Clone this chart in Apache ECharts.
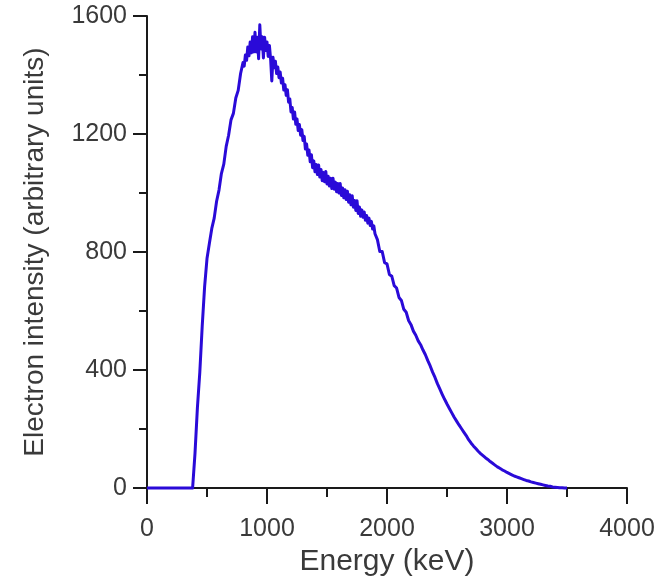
<!DOCTYPE html>
<html>
<head>
<meta charset="utf-8">
<script src="https://cdn.jsdelivr.net/npm/echarts@6/dist/echarts.min.js"></script>
<style>
html,body{margin:0;padding:0;background:#fff;}
#chart{width:658px;height:582px;}
</style>
</head>
<body>
<div id="chart"></div>
<script>
var xTicks = [0, 1000, 2000, 3000, 4000];
var yTicks = [0, 400, 800, 1200, 1600];
var xTitle = 'Energy (keV)';
var yTitle = 'Electron intensity (arbitrary units)';

var energy = [
  0, 360, 380, 400, 420, 440, 460, 480, 500, 520, 540, 560, 580, 600, 620, 640, 660, 680, 700, 720, 740, 760,
  780, 790, 800, 810, 820, 830, 840, 850, 860, 870, 880, 890, 900, 910, 920, 930, 940, 950, 960, 970, 980, 990,
  1000, 1010, 1020, 1030, 1040, 1050, 1060, 1070, 1080, 1090, 1100, 1110, 1120, 1130, 1140, 1150, 1160, 1170, 1180, 1190,
  1200, 1210, 1220, 1230, 1240, 1250, 1260, 1270, 1280, 1290, 1300, 1310, 1320, 1330, 1340, 1350, 1360, 1370, 1380, 1390,
  1400, 1410, 1420, 1430, 1440, 1450, 1460, 1470, 1480, 1490, 1500, 1510, 1520, 1530, 1540, 1550, 1560, 1570, 1580, 1590,
  1600, 1610, 1620, 1630, 1640, 1650, 1660, 1670, 1680, 1690, 1700, 1710, 1720, 1730, 1740, 1750, 1760, 1770, 1780, 1790,
  1800, 1810, 1820, 1830, 1840, 1850, 1860, 1870, 1880, 1890, 1900,
  1920, 1940, 1960, 1980, 2000, 2020, 2040, 2060, 2080, 2100, 2120, 2140, 2160, 2180, 2200, 2220, 2240, 2260, 2280, 2300, 2320,
  2340, 2360, 2380, 2400, 2420, 2440, 2460, 2480, 2500, 2520, 2540, 2560, 2580, 2600, 2620, 2640, 2660, 2680, 2700, 2720,
  2740, 2760, 2780, 2800, 2820, 2840, 2860, 2880, 2900, 2920, 2940, 2960, 2980, 3000, 3020, 3040, 3060, 3080, 3100, 3120,
  3140, 3160, 3180, 3200, 3220, 3240, 3260, 3280, 3300, 3320, 3340, 3360, 3380, 3400, 3420, 3440, 3460, 3480, 3500, 4000
];

var intensity = [
  0, 0, 0, 118, 272, 392, 548, 682, 778, 830, 880, 915, 972, 1010, 1066, 1098, 1158, 1196, 1248, 1270, 1322, 1348,
  1405, 1400, 1442, 1430, 1468, 1450, 1495, 1465, 1512, 1475, 1530, 1478, 1545, 1478, 1528, 1455, 1570, 1488, 1530, 1458, 1528, 1483,
  1512, 1463, 1500, 1455, 1380, 1460, 1425, 1447, 1405, 1427, 1391, 1410, 1373, 1389, 1349, 1367, 1331, 1350, 1308, 1319,
  1275, 1290, 1251, 1275, 1233, 1251, 1212, 1232, 1196, 1215, 1178, 1192, 1149, 1166, 1128, 1146, 1106, 1130, 1086, 1109,
  1072, 1097, 1063, 1095, 1054, 1080, 1042, 1070, 1038, 1073, 1031, 1057, 1024, 1050, 1015, 1050, 1013, 1037, 1004, 1032,
  1000, 1032, 992, 1017, 984, 1011, 978, 1006, 969, 994, 960, 991, 952, 975, 941, 974, 931, 953, 921, 943,
  918, 936, 908, 924, 898, 915, 890, 904, 878, 889, 862,
  842, 802, 802, 764, 760, 724, 718, 686, 678, 646, 636, 606, 596, 568, 554, 532, 518, 499, 486, 468,
  452, 432, 414, 393, 375, 354, 336, 318, 301, 285, 270, 255, 240, 227, 214, 202, 190, 178, 164, 153,
  143, 134, 125, 117, 110, 103, 97, 90, 84, 78, 72, 67, 62, 58, 53, 49, 45, 41, 38, 35,
  32, 29, 26, 24, 21, 19, 17, 15, 13, 11, 9, 7, 6, 4, 3, 2, 1, 1, 0, 0
];

var seriesData = energy.map(function (e, i) { return [e, intensity[i]]; });

var textColor = '#3a3a3a';
var axisColor = '#1a1a1a';
var font = 'Liberation Sans, Arial, sans-serif';
function plain(v) { return String(v); }

var chart = echarts.init(document.getElementById('chart'), null, {renderer: 'canvas'});
chart.setOption({
  backgroundColor: '#ffffff',
  animation: false,
  grid: {left: 147, right: 31, top: 16, bottom: 88, containLabel: false},
  xAxis: {
    type: 'value',
    min: xTicks[0],
    max: xTicks[xTicks.length - 1],
    interval: xTicks[1] - xTicks[0],
    name: xTitle,
    nameLocation: 'middle',
    nameGap: 54,
    nameTextStyle: {color: textColor, fontSize: 30, fontFamily: font},
    axisLine: {show: true, onZero: false, lineStyle: {color: axisColor, width: 2}},
    axisTick: {show: true, length: 16, lineStyle: {color: axisColor, width: 2}},
    minorTick: {show: true, splitNumber: 2, length: 9, lineStyle: {color: axisColor, width: 2}},
    axisLabel: {color: textColor, fontSize: 25, fontFamily: font, margin: 29, formatter: plain},
    splitLine: {show: false},
    minorSplitLine: {show: false}
  },
  yAxis: {
    type: 'value',
    min: yTicks[0],
    max: yTicks[yTicks.length - 1],
    interval: yTicks[1] - yTicks[0],
    name: yTitle,
    nameLocation: 'middle',
    nameGap: 98,
    nameTextStyle: {color: textColor, fontSize: 28, fontFamily: font},
    axisLine: {show: true, lineStyle: {color: axisColor, width: 2}},
    axisTick: {show: true, length: 14, lineStyle: {color: axisColor, width: 2}},
    minorTick: {show: true, splitNumber: 2, length: 8, lineStyle: {color: axisColor, width: 2}},
    axisLabel: {color: textColor, fontSize: 25, fontFamily: font, margin: 20, formatter: plain},
    splitLine: {show: false},
    minorSplitLine: {show: false}
  },
  series: [{
    type: 'line',
    data: seriesData,
    showSymbol: false,
    symbol: 'none',
    smooth: false,
    clip: false,
    z: 1,
    lineStyle: {color: '#2a0ad8', width: 3, join: 'round'}
  }]
});
</script>
</body>
</html>
